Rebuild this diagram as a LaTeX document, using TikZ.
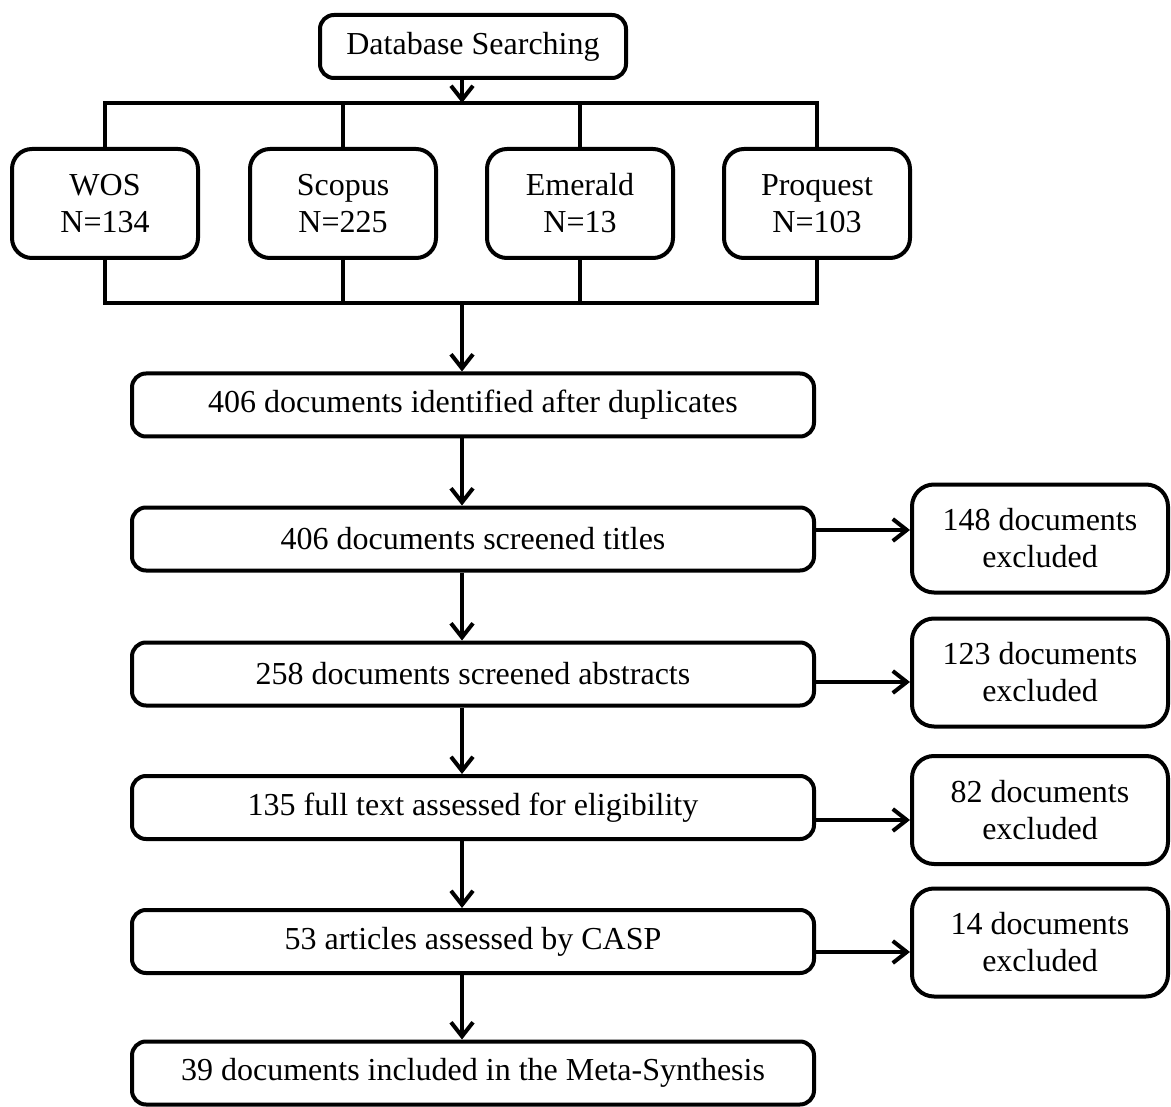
\documentclass[tikz,border=0pt]{standalone}
\usepackage{fontspec}
\setmainfont{Liberation Serif}
\usetikzlibrary{arrows.meta}
\begin{document}
\begin{tikzpicture}[x=1pt,y=-1pt,
  every node/.style={font=\fontsize{32}{37}\selectfont},
  box/.style={draw=black, line width=4pt, rounded corners=14pt, inner sep=0pt, align=center},
  srcbox/.style={box, rounded corners=20pt, minimum width=186pt, minimum height=109pt},
  mainbox/.style={box, minimum width=682pt, minimum height=63pt},
  exbox/.style={box, rounded corners=22pt, minimum width=256pt, minimum height=108pt},
  conn/.style={line width=4pt},
  arr/.style={line width=4pt, -{Straight Barb[length=14pt,width=22pt]}}
]
\useasboundingbox (0,0) rectangle (1171,1107);

\node[box, minimum width=306pt, minimum height=63pt] (db) at (473,46.5) {Database Searching};

\node[srcbox] (wos) at (105,203.5) {WOS\\N=134};
\node[srcbox] (scopus) at (343,203.5) {Scopus\\N=225};
\node[srcbox] (emerald) at (580,203.5) {Emerald\\N=13};
\node[srcbox] (proquest) at (817,203.5) {Proquest\\N=103};

\coordinate (ax) at (462,0);
\coordinate (tb) at (462,103);
\coordinate (bb) at (462,303);

\node[mainbox] (n1) at (473,405) {406 documents identified after duplicates};
\node[mainbox] (n2) at (473,539) {406 documents screened titles};
\node[mainbox] (n3) at (473,674) {258 documents screened abstracts};
\node[mainbox] (n4) at (473,807.5) {135 full text assessed for eligibility};
\node[mainbox] (n5) at (473,941.5) {53 articles assessed by CASP};
\node[mainbox] (n6) at (473,1073) {39 documents included in the Meta-Synthesis};

\node[exbox] (x1) at (1040,538.5) {148 documents\\excluded};
\node[exbox] (x2) at (1040,672.5) {123 documents\\excluded};
\node[exbox] (x3) at (1040,810) {82 documents\\excluded};
\node[exbox] (x4) at (1040,942.5) {14 documents\\excluded};

% top bracket
\draw[conn] (wos.north) -- (wos.north |- tb) -- (proquest.north |- tb) -- (proquest.north);
\draw[conn] (scopus.north) -- (scopus.north |- tb);
\draw[conn] (emerald.north) -- (emerald.north |- tb);
\draw[arr] (db.south -| ax) -- (tb);

% bottom bracket
\draw[conn] (wos.south) -- (wos.south |- bb) -- (proquest.south |- bb) -- (proquest.south);
\draw[conn] (scopus.south) -- (scopus.south |- bb);
\draw[conn] (emerald.south) -- (emerald.south |- bb);
\draw[arr] (bb) -- (n1.north -| ax);

% main flow
\draw[arr] (n1.south -| ax) -- (n2.north -| ax);
\draw[arr] (n2.south -| ax) -- (n3.north -| ax);
\draw[arr] (n3.south -| ax) -- (n4.north -| ax);
\draw[arr] (n4.south -| ax) -- (n5.north -| ax);
\draw[arr] (n5.south -| ax) -- (n6.north -| ax);

% exclusions
\draw[arr] ([yshift=9pt]n2.east) -- ([yshift=9pt]n2.east -| x1.west);
\draw[arr] ([yshift=-8pt]n3.east) -- ([yshift=-8pt]n3.east -| x2.west);
\draw[arr] ([yshift=-12.5pt]n4.east) -- ([yshift=-12.5pt]n4.east -| x3.west);
\draw[arr] ([yshift=-10.5pt]n5.east) -- ([yshift=-10.5pt]n5.east -| x4.west);
\end{tikzpicture}
\end{document}
